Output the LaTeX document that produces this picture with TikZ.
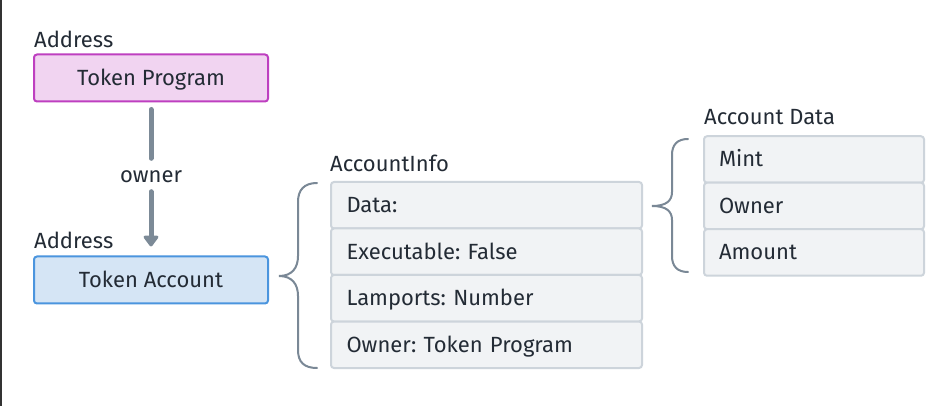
\documentclass[tikz,border=0pt]{standalone}
\usepackage{fontspec}
\setmainfont{Fira Sans}
\frenchspacing
\usetikzlibrary{arrows.meta}
\definecolor{txt}{HTML}{232B35}
\definecolor{pinkfill}{HTML}{F1D4F1}
\definecolor{pinkline}{HTML}{BE3FC0}
\definecolor{bluefill}{HTML}{D5E5F5}
\definecolor{blueline}{HTML}{4B95DE}
\definecolor{rowfill}{HTML}{F1F3F5}
\definecolor{rowline}{HTML}{CDD4DB}
\definecolor{arrowc}{HTML}{7C8A97}
\definecolor{bracec}{HTML}{7A8896}
\tikzset{
  every node/.style={text=txt, font=\fontsize{22}{24}\selectfont, text height=15pt, text depth=0pt},
  mainbox/.style={draw, line width=2pt, rounded corners=3pt, minimum width=234pt, minimum height=47pt, inner sep=0pt},
  rowbox/.style={draw=rowline, fill=rowfill, line width=2pt, rounded corners=3pt, minimum width=311pt, minimum height=46.5pt, anchor=west, text width=280pt, align=left, inner xsep=15pt},
  rowboxB/.style={rowbox, minimum width=219pt, text width=190pt},
  lbl/.style={anchor=west, inner sep=0pt},
  bracepath/.style={draw=bracec, line width=2pt, line cap=round},
}
\begin{document}
\begin{tikzpicture}[x=1pt,y=-1pt]
\useasboundingbox (0,0) rectangle (951,406);
\fill[white] (0,0) rectangle (951,406);
\fill[black!80] (0,0) rectangle (2,406);

% left column
\node[lbl] (addr1) at (34,40) {Address};
\node[mainbox, draw=pinkline, fill=pinkfill] (tp) at (151,78) {Token Program};
\node[lbl] (addr2) at (34,241) {Address};
\node[mainbox, draw=blueline, fill=bluefill] (ta) at (151,280) {Token Account};

\node[fill=white, inner xsep=2pt, inner ysep=9pt] (own) at (151,175) {owner};
\draw[arrowc, line width=5pt, line cap=round, shorten <=7pt] (tp.south) -- (own.north);
\draw[arrowc, line width=5pt, line cap=round, shorten >=9pt, -{Triangle[width=17pt,length=12pt,round]}] (own.south) -- (ta.north);

% AccountInfo
\node[lbl] (ai) at (330,164.5) {AccountInfo};
\node[rowbox] (r1) at (330,205.25) {Data:};
\node[rowbox] (r2) at (330,251.75) {Executable: False};
\node[rowbox] (r3) at (330,298.25) {Lamports: Number};
\node[rowbox] (r4) at (330,344.75) {Owner: Token Program};

% Account Data
\node[lbl] (ad) at (704,117.5) {Account Data};
\node[rowboxB] (d1) at (703,159.5) {Mint};
\node[rowboxB] (d2) at (703,206) {Owner};
\node[rowboxB] (d3) at (703,252.5) {Amount};

% braces
\draw[bracepath] (317,183) .. controls (304,183) and (298,190) .. (298,202) -- (298,256)
  .. controls (298,268) and (292,276) .. (279,276)
  .. controls (292,276) and (298,284) .. (298,296) -- (298,350)
  .. controls (298,362) and (304,368) .. (317,368);
\draw[bracepath] (688,139) .. controls (677,139) and (672,145) .. (672,155) -- (672,192)
  .. controls (672,201) and (666,206) .. (652,206)
  .. controls (666,206) and (672,211) .. (672,220) -- (672,256)
  .. controls (672,266) and (677,272) .. (688,272);
\end{tikzpicture}
\end{document}
